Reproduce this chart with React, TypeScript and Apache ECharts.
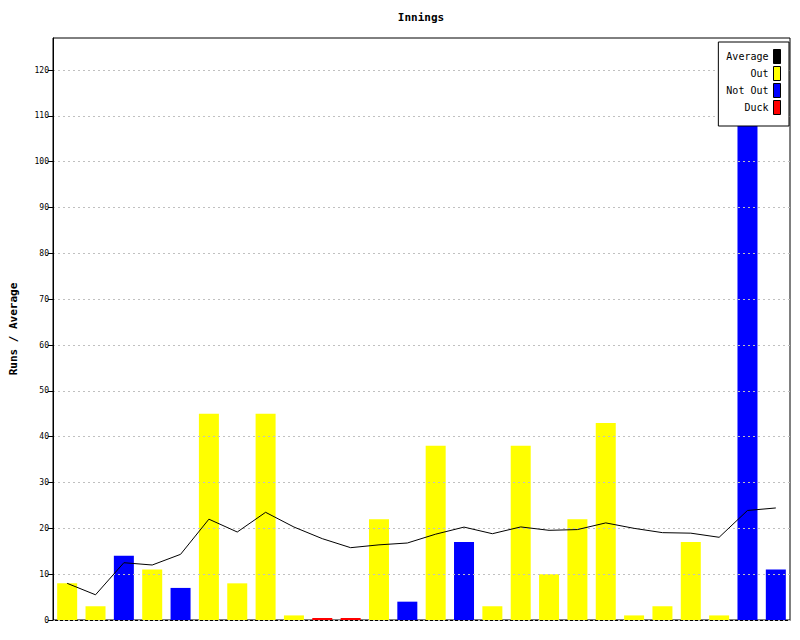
import React, { useEffect, useRef } from "react";
import * as echarts from "echarts";

// Runs per innings and how each innings ended (O = out, N = not out, D = duck)
const innings = Array.from({ length: 26 }, (_, i) => String(i + 1));
const runs = [8, 3, 14, 11, 7, 45, 8, 45, 1, 0, 0, 22, 4, 38, 17, 3, 38, 10, 22, 43, 1, 3, 17, 1, 117, 11];
const status = ["O", "O", "N", "O", "N", "O", "O", "O", "O", "D", "D", "O", "N", "O", "N", "O", "O", "O", "O", "O", "O", "O", "O", "O", "N", "N"];
// Running batting average after each innings
const average = [8, 5.5, 12.5, 12, 14.33, 22, 19.2, 23.5, 20.29, 17.75, 15.78, 16.4, 16.8, 18.73, 20.27, 18.83, 20.31, 19.57, 19.73, 21.19, 20, 19.06, 18.95, 18.05, 23.9, 24.45];
const yTicks = [0, 10, 20, 30, 40, 50, 60, 70, 80, 90, 100, 110, 120];

const FONT = "'DejaVu Sans Mono', 'Liberation Mono', monospace";

export default function App() {
  const ref = useRef<HTMLDivElement>(null);
  useEffect(() => {
    if (!ref.current) return;
    const chart = echarts.init(ref.current, null, { renderer: "svg" });
    const pick = (code: string) => runs.map((v, i) => (status[i] === code ? v : null));
    chart.setOption({
      animation: false,
      backgroundColor: "#ffffff",
      textStyle: { fontFamily: FONT },
      title: {
        text: "Innings",
        left: 421,
        textAlign: "center",
        top: 12,
        padding: 0,
        textStyle: { fontFamily: FONT, fontSize: 11, fontWeight: "bold", color: "#000" },
      },
      legend: {
        orient: "vertical",
        right: 11,
        top: 42,
        align: "right",
        itemWidth: 7,
        itemHeight: 14,
        itemGap: 2,
        padding: [7, 8, 11, 8],
        backgroundColor: "#ffffff",
        borderColor: "#000000",
        borderWidth: 1,
        selectedMode: false,
        itemStyle: { borderColor: "#000000", borderWidth: 1 },
        textStyle: { fontFamily: FONT, fontSize: 10, color: "#000" },
        data: [
          { name: "Average", icon: "rect", itemStyle: { color: "#000000" } },
          { name: "Out", icon: "rect" },
          { name: "Not Out", icon: "rect" },
          { name: "Duck", icon: "rect" },
        ],
        z: 10,
      },
      grid: {
        left: 53,
        right: 10,
        top: 38,
        bottom: 20,
        outerBoundsMode: "none",
        containLabel: false,
        show: true,
        borderColor: "#000000",
        borderWidth: 1,
        backgroundColor: "transparent",
      },
      xAxis: {
        type: "category",
        data: innings,
        boundaryGap: true,
        axisLine: { lineStyle: { color: "#000", width: 1 } },
        axisTick: { show: false },
        axisLabel: { show: false },
        splitLine: { show: false },
      },
      yAxis: {
        type: "value",
        min: 0,
        max: 127,
        interval: 10,
        z: 3,
        name: "Runs / Average",
        nameLocation: "middle",
        nameGap: 34,
        nameRotate: 90,
        nameTextStyle: { fontFamily: FONT, fontSize: 11, fontWeight: "bold", color: "#000" },
        axisLine: { show: true, lineStyle: { color: "#000", width: 1 } },
        axisTick: { show: true, length: 5, lineStyle: { color: "#000" }, customValues: yTicks },
        axisLabel: {
          fontFamily: FONT,
          fontSize: 8,
          color: "#000",
          margin: 4,
          customValues: yTicks,
        },
        splitLine: {
          show: true,
          lineStyle: { color: "#c0c0c0", type: [2, 3], width: 1 },
        },
      },
      series: [
        {
          name: "Out",
          type: "bar",
          stack: "r",
          barWidth: 20,
          data: pick("O"),
          itemStyle: { color: "#ffff00" },
        },
        {
          name: "Not Out",
          type: "bar",
          stack: "r",
          barWidth: 20,
          data: pick("N"),
          itemStyle: { color: "#0000ff" },
        },
        {
          name: "Duck",
          type: "bar",
          stack: "r",
          barWidth: 20,
          barMinHeight: 2,
          data: pick("D"),
          itemStyle: { color: "#ff0000" },
        },
        {
          name: "Average",
          type: "line",
          data: average,
          showSymbol: false,
          symbol: "none",
          itemStyle: { color: "#000000" },
          lineStyle: { color: "#000000", width: 1 },
          z: 4,
        },
      ],
    });
    return () => chart.dispose();
  }, []);
  return (
    <div
      ref={ref}
      style={{ position: "fixed", left: 0, top: 0, width: 800, height: 640 }}
    />
  );
}
